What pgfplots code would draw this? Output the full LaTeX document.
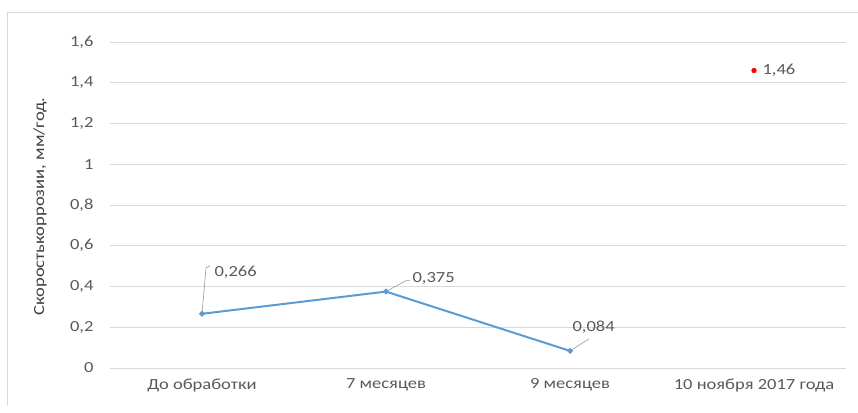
\documentclass[border=0pt]{standalone}
\usepackage{pgfplots}
\pgfplotsset{compat=1.18}
\usepackage{fontspec}
\setmainfont[FakeStretch=1.2]{Carlito}
\definecolor{txt}{HTML}{595959}
\definecolor{lbl}{HTML}{404040}
\definecolor{grd}{HTML}{D9D9D9}
\definecolor{ln}{HTML}{5B9BD5}
\newcommand{\fs}{\fontsize{15.5}{18}\selectfont}
\begin{document}
\begin{tikzpicture}[x=1bp,y=1bp]
\useasboundingbox (-110,-44) rectangle (748,368);
\draw[grd, line width=0.8bp] (-103,-38) -- (-103,356) -- (748,356);
\begin{axis}[
  at={(0,0)}, anchor=south west,
  scale only axis, width=736bp, height=326bp,
  xmin=-0.5, xmax=3.5, ymin=0, ymax=1.6,
  axis line style={draw=none},
  xtick={0,1,2,3},
  xticklabels={До обработки, 7 месяцев, 9 месяцев, 10 ноября 2017 года},
  ytick={0,0.2,...,1.6},
  yticklabels={0,{0,2},{0,4},{0,6},{0,8},1,{1,2},{1,4},{1,6}},
  major tick length=0pt,
  ymajorgrids, grid style={grd, line width=0.9bp},
  tick label style={font=\fs, text=txt},
  yticklabel style={xshift=-13bp},
  xticklabel style={yshift=-7bp},
  ylabel={Скоростькоррозии, мм/год.},
  ylabel style={font=\fs, text=lbl, at={(rel axis cs:0,0.495)}, anchor=center, xshift=0bp, yshift=70bp},
  clip=false,
]
\addplot[ln, line width=2bp, mark=*, mark size=1.7bp, mark options={fill=ln}]
  coordinates {(0,0.266) (1,0.375) (2,0.084)};
\addplot[only marks, red, mark=*, mark size=2.4bp] coordinates {(3,1.46)};
\draw[grd!70!black, line width=0.6bp] (axis cs:0,0.266) -- ++(4bp,46bp) -- ++(4bp,2bp);
\node[anchor=west, text=txt, font=\fs] at ([xshift=9bp,yshift=42bp]axis cs:0,0.266) {0,266};
\draw[grd!70!black, line width=0.6bp] (axis cs:1,0.375) -- ++(20bp,11bp) -- ++(4bp,0bp);
\node[anchor=west, text=txt, font=\fs] at ([xshift=23bp,yshift=13bp]axis cs:1,0.375) {0,375};
\draw[grd!70!black, line width=0.6bp] (axis cs:2,0.084) -- ++(19bp,12bp);
\node[anchor=west, text=txt, font=\fs] at ([xshift=-1bp,yshift=24bp]axis cs:2,0.084) {0,084};
\node[anchor=west, text=txt, font=\fs] at ([xshift=5bp,yshift=0bp]axis cs:3,1.46) {1,46};
\end{axis}
\end{tikzpicture}
\end{document}
